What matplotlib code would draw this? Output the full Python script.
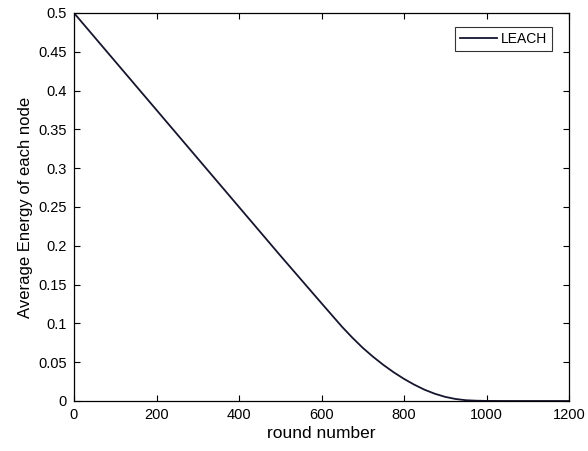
import matplotlib.pyplot as plt

# energy per node vs round
rounds = [0, 100, 200, 300, 400, 500, 600, 650, 675, 700, 725, 750, 775, 800,
          825, 850, 875, 900, 925, 950, 975, 1000, 1050, 1100, 1200]
energy = [0.5, 0.4375, 0.375, 0.3125, 0.25, 0.1875, 0.126, 0.0955, 0.0815, 0.0685,
          0.057, 0.0465, 0.037, 0.0285, 0.021, 0.0145, 0.0093, 0.0053, 0.0026,
          0.001, 0.0004, 0.0001, 0.0, 0.0, 0.0]

xticks = [0, 200, 400, 600, 800, 1000, 1200]
yticks = [0, 0.05, 0.1, 0.15, 0.2, 0.25, 0.3, 0.35, 0.4, 0.45, 0.5]
ytick_labels = ['0', '0.05', '0.1', '0.15', '0.2', '0.25', '0.3', '0.35', '0.4', '0.45', '0.5']

plt.rcParams['font.family'] = ['Liberation Sans', 'DejaVu Sans']

fig = plt.figure(figsize=(5.88, 4.51), dpi=100)
ax = fig.add_axes([74 / 588, 1 - 401 / 451, 495 / 588, 388 / 451])

ax.plot(rounds, energy, color='#15152e', linewidth=1.3, label='LEACH')

ax.set_xlim(0, 1200)
ax.set_ylim(0, 0.5)
ax.set_xticks(xticks)
ax.set_xticklabels([str(t) for t in xticks])
ax.set_yticks(yticks)
ax.set_yticklabels(ytick_labels)
ax.tick_params(direction='in', top=True, right=True, length=4, width=0.8,
               labelsize=10.5, pad=5, colors='black')
for s in ax.spines.values():
    s.set_linewidth(0.9)
    s.set_color('black')

ax.set_xlabel('round number', fontsize=12.5, labelpad=3)
ax.set_ylabel('Average Energy of each node', fontsize=12, labelpad=4)

leg = ax.legend(loc='upper right', bbox_to_anchor=(0.9657, 0.9639),
                borderaxespad=0, fontsize=10, handlelength=2.7,
                handletextpad=0.25, borderpad=0.35, fancybox=False)
leg.get_frame().set_edgecolor('black')
leg.get_frame().set_linewidth(0.8)

fig.savefig('out.png', dpi=100)
